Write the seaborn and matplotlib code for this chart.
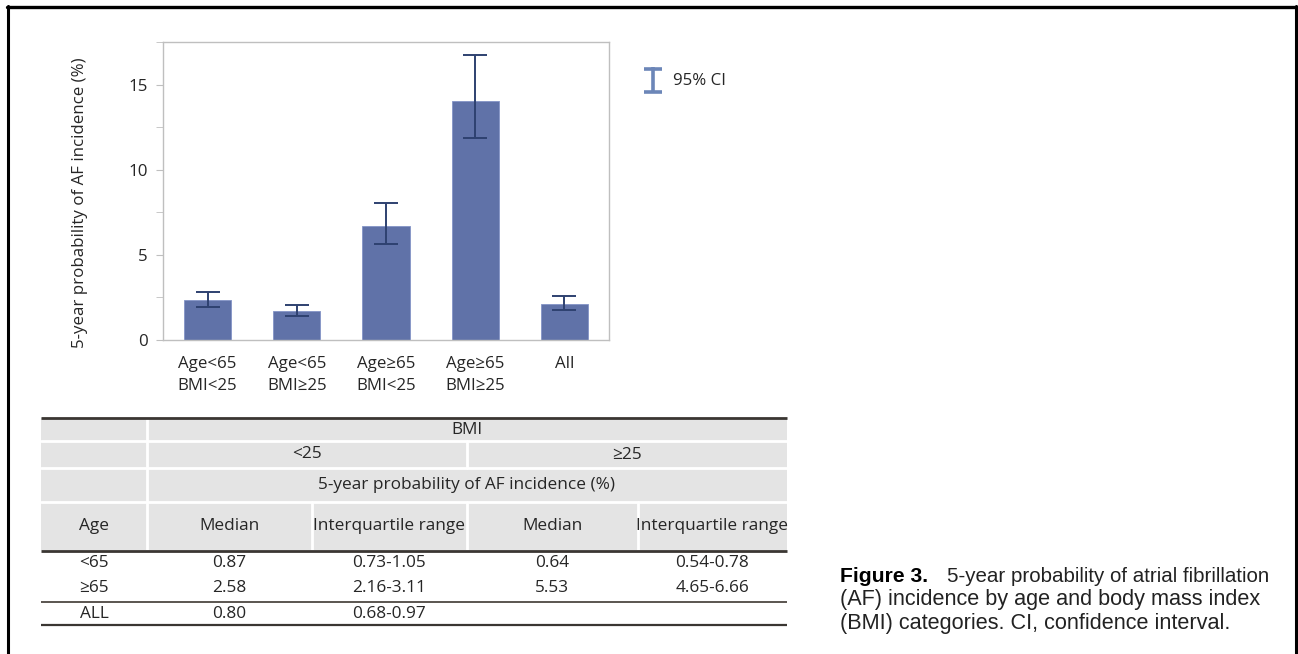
import numpy as np
import pandas as pd
import matplotlib
matplotlib.use("Agg")
import matplotlib.pyplot as plt
import seaborn as sns
from matplotlib.patches import Rectangle
from matplotlib.lines import Line2D

# ---------------------------------------------------------------------------
# Data
# ---------------------------------------------------------------------------
groups = ["Age<65\nBMI<25", "Age<65\nBMI≥25", "Age≥65\nBMI<25", "Age≥65\nBMI≥25", "All"]
probability = [2.32, 1.72, 6.70, 14.03, 2.13]
ci_low = [1.95, 1.43, 5.65, 11.88, 1.78]
ci_high = [2.80, 2.07, 8.05, 16.75, 2.56]

age_rows = ["<65", "≥65", "ALL"]
median_lt25 = ["0.87", "2.58", "0.80"]
iqr_lt25 = ["0.73-1.05", "2.16-3.11", "0.68-0.97"]
median_ge25 = ["0.64", "5.53", ""]
iqr_ge25 = ["0.54-0.78", "4.65-6.66", ""]

caption_lines = ["5-year probability of atrial fibrillation",
                 "(AF) incidence by age and body mass index",
                 "(BMI) categories. CI, confidence interval."]

W, H = 1298, 654
BAR = "#6072A8"
ERR = "#2E4170"


def fx(x):
    return x / W


def fy(y):
    return 1 - y / H


sns.set_style("white")
plt.rcParams["font.family"] = ["Open Sans", "DejaVu Sans"]

fig = plt.figure(figsize=(W / 100, H / 100), dpi=100)

# ---------------------------------------------------------------------------
# Bar chart
# ---------------------------------------------------------------------------
ax = fig.add_axes([fx(163), fy(340), fx(609 - 163), (340 - 42) / H])
df = pd.DataFrame({"group": groups, "prob": probability})
sns.barplot(data=df, x="group", y="prob", order=groups, color=BAR,
            saturation=1, width=0.53, errorbar=None, ax=ax,
            edgecolor="#8394C6", linewidth=0.6)
yerr = np.array([np.array(probability) - np.array(ci_low),
                 np.array(ci_high) - np.array(probability)])
ax.errorbar(np.arange(len(groups)), probability, yerr=yerr, fmt="none",
            ecolor=ERR, elinewidth=1.4, capsize=8.5, capthick=1.4)

ax.set_ylim(0, 17.5)
ax.set_xlim(-0.5, len(groups) - 0.5)
ax.set_yticks([0, 5, 10, 15])
ax.set_yticks([2.5, 7.5, 12.5, 17.5], minor=True)
ax.set_xlabel("")
ax.set_ylabel("5-year probability of AF incidence (%)", fontsize=12.2, va="center")
ax.yaxis.set_label_coords(-0.186, 0.46)
for s in ax.spines.values():
    s.set_visible(True)
    s.set_color("#BFBFBF")
    s.set_linewidth(1.0)
ax.tick_params(axis="y", which="both", left=True, length=5, color="#BFBFBF",
               labelsize=12.2, pad=6)
ax.tick_params(axis="x", bottom=False, labelsize=12.2, pad=8)
for lab in ax.get_xticklabels():
    lab.set_linespacing(1.5)

# legend symbol for the CI
for seg in [([653, 653], [67, 93]), ([644, 662], [68.5, 68.5]), ([644, 662], [91.5, 91.5])]:
    fig.add_artist(Line2D([fx(v) for v in seg[0]], [fy(v) for v in seg[1]],
                          color="#6C86B8", lw=2.6, solid_capstyle="butt"))
fig.text(fx(673), fy(81), "95% CI", fontsize=12.2, va="center", ha="left")

# ---------------------------------------------------------------------------
# Table
# ---------------------------------------------------------------------------
tx = fig.add_axes([fx(40), fy(627), fx(788 - 40), (627 - 415) / H])
tx.set_xlim(40, 788)
tx.set_ylim(627, 415)
tx.axis("off")

GRAY = "#E4E4E4"
L, C1, C2, C3, C4, R = 41, 147, 312, 467, 638, 787
rows = [418, 441, 468, 502, 550]
tx.add_patch(Rectangle((L, 418), R - L, 550 - 418, color=GRAY, lw=0))
# white separators inside header
for yy in rows[1:4]:
    tx.plot([L, R], [yy, yy], color="white", lw=2)
tx.plot([C1, C1], [418, 550], color="white", lw=2)
tx.plot([C3, C3], [441, 468], color="white", lw=2)
for xx in [C2, C3, C4]:
    tx.plot([xx, xx], [502, 550], color="white", lw=2)

tfs = 12.4
tx.text((C1 + R) / 2, 429.5, "BMI", ha="center", va="center", fontsize=tfs)
tx.text((C1 + C3) / 2, 454.5, "<25", ha="center", va="center", fontsize=tfs)
tx.text((C3 + R) / 2, 454.5, "≥25", ha="center", va="center", fontsize=tfs)
tx.text((C1 + R) / 2, 485, "5-year probability of AF incidence (%)",
        ha="center", va="center", fontsize=tfs)
heads = ["Age", "Median", "Interquartile range", "Median", "Interquartile range"]
cols = [L, C1, C2, C3, C4, R]
for i, h in enumerate(heads):
    tx.text((cols[i] + cols[i + 1]) / 2, 526, h, ha="center", va="center", fontsize=tfs)

row_y = [563, 588, 614]
for r, yy in enumerate(row_y):
    vals = [age_rows[r], median_lt25[r], iqr_lt25[r], median_ge25[r], iqr_ge25[r]]
    for i, v in enumerate(vals):
        tx.text((cols[i] + cols[i + 1]) / 2, yy, v, ha="center", va="center", fontsize=tfs)

tx.plot([L, R], [418, 418], color="#3A3632", lw=2.0, solid_capstyle="butt")
tx.plot([L, R], [550.5, 550.5], color="#3A3632", lw=2.0, solid_capstyle="butt")
tx.plot([L, R], [601.5, 601.5], color="#5A5550", lw=1.4, solid_capstyle="butt")
tx.plot([L, R], [624.5, 624.5], color="#3A3632", lw=1.6, solid_capstyle="butt")

# ---------------------------------------------------------------------------
# Caption
# ---------------------------------------------------------------------------
fig.text(fx(840), fy(576), "Figure 3.", fontsize=15.2, fontweight="bold",
         family="Liberation Sans", va="center", color="black")
fig.text(fx(947), fy(576), caption_lines[0], fontsize=14.8, family="Liberation Sans",
         va="center", color="#222222")
fig.text(fx(840), fy(600), caption_lines[1], fontsize=15.6, family="Liberation Sans",
         va="center", color="#222222")
fig.text(fx(840), fy(623.5), caption_lines[2], fontsize=15.6, family="Liberation Sans",
         va="center", color="#222222")

# ---------------------------------------------------------------------------
# Outer frame
# ---------------------------------------------------------------------------
fig.add_artist(Line2D([fx(7), fx(1297)], [fy(7), fy(7)], color="black", lw=2.4))
fig.add_artist(Line2D([fx(7.5), fx(7.5)], [fy(6), fy(660)], color="black", lw=2.2))
fig.add_artist(Line2D([fx(1296), fx(1296)], [fy(6), fy(660)], color="black", lw=2.2))

fig.savefig("out.png", dpi=100)
